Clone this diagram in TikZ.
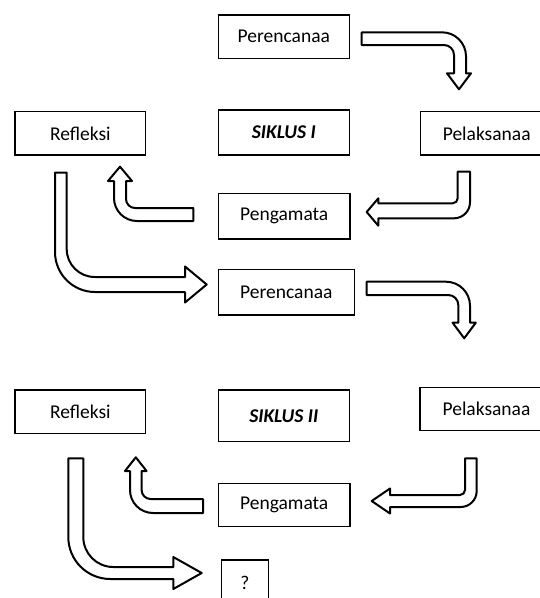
\documentclass[tikz,border=0pt]{standalone}
\usepackage{fontspec}
\setmainfont{Carlito}
\begin{document}
\begin{tikzpicture}[x=1pt,y=1pt,
  box/.style={draw, line width=1.3pt, inner sep=0pt, font=\fontsize{19.5}{23}\selectfont},
  titlebox/.style={box, font=\fontsize{19.5}{23}\selectfont\bfseries\itshape},
  barrow/.style={draw, line width=2pt, fill=white, line join=round}]
\useasboundingbox (0,0) rectangle (540,-598);
% boxes
\node[box, minimum width=131pt, minimum height=43.3pt] (p1) at (283.8,-36.7) {Perencanaa};
\node[titlebox, minimum width=131pt, minimum height=45pt] (s1) at (283.8,-132.5) {SIKLUS I};
\node[box, minimum width=132pt, minimum height=43.3pt] (l1) at (486.7,-133.3) {Pelaksanaa};
\node[box, minimum width=130.7pt, minimum height=43.3pt] (r1) at (80.3,-133.3) {Refleksi};
\node[box, minimum width=131.7pt, minimum height=45.7pt] (g1) at (284.2,-216.2) {Pengamata};
\node[box, minimum width=136pt, minimum height=45.7pt] (p2) at (286.3,-292.2) {Perencanaa};
\node[box, minimum width=130.7pt, minimum height=43.3pt] (r2) at (80.3,-411.7) {Refleksi};
\node[titlebox, minimum width=131pt, minimum height=51.7pt] (s2) at (283.8,-415.8) {SIKLUS II};
\node[box, minimum width=133pt, minimum height=43.4pt] (l2) at (486.5,-409) {Pelaksanaa};
\node[box, minimum width=131.7pt, minimum height=43.4pt] (g2) at (284.2,-505) {Pengamata};
\node[box, minimum width=46.6pt, minimum height=46pt] (q) at (245,-583) {?};
% block arrows, cycle I
\draw[barrow] (361.7,-32.3) -- (442,-32.3) arc[start angle=90,end angle=0,radius=24]
  -- (466,-73.3) -- (471,-73.3) -- (459,-89.3) -- (447,-73.3) -- (454,-73.3)
  -- (454,-55) arc[start angle=0,end angle=90,radius=10] -- (361.7,-45) -- cycle;
\draw[barrow] (457.7,-171.7) -- (470,-171.7) -- (470,-202.3) arc[start angle=0,end angle=-90,radius=16]
  -- (378.3,-218.3) -- (378.3,-225.7) -- (366.7,-212) -- (378.3,-198.3) -- (378.3,-203.3)
  -- (452.7,-203.3) arc[start angle=-90,end angle=0,radius=5] -- cycle;
\draw[barrow] (193.3,-208) -- (193.3,-221) -- (137,-221) arc[start angle=-90,end angle=-180,radius=23]
  -- (114,-181) -- (108,-181) -- (120,-166.7) -- (132,-181) -- (126,-181)
  -- (126,-199) arc[start angle=180,end angle=270,radius=9] -- cycle;
\draw[barrow] (55,-172.5) -- (66.7,-172.5) -- (66.7,-249) arc[start angle=180,end angle=270,radius=28]
  -- (185,-277) -- (185,-266.5) -- (206.7,-284.5) -- (185,-302.5) -- (185,-292)
  -- (95,-292) arc[start angle=270,end angle=180,radius=40] -- cycle;
% block arrows, cycle II
\draw[barrow] (366.7,-281.7) -- (446,-281.7) arc[start angle=90,end angle=0,radius=24]
  -- (470,-322.7) -- (475.8,-322.7) -- (464.2,-338.3) -- (452.6,-322.7) -- (458.3,-322.7)
  -- (458.3,-305) arc[start angle=0,end angle=90,radius=10] -- (366.7,-295) -- cycle;
\draw[barrow] (465,-458.3) -- (476.7,-458.3) -- (476.7,-491) arc[start angle=0,end angle=-90,radius=16]
  -- (390,-507) -- (390,-513.5) -- (371.7,-501) -- (390,-488.5) -- (390,-495)
  -- (460,-495) arc[start angle=-90,end angle=0,radius=5] -- cycle;
\draw[barrow] (203,-499) -- (203,-513) -- (153,-513) arc[start angle=-90,end angle=-180,radius=23]
  -- (130,-471) -- (125,-471) -- (135.8,-457.3) -- (146.6,-471) -- (141.6,-471)
  -- (141.6,-490) arc[start angle=180,end angle=270,radius=9] -- cycle;
\draw[barrow] (68.3,-458.3) -- (83.3,-458.3) -- (83.3,-537) arc[start angle=180,end angle=270,radius=30]
  -- (173.3,-567) -- (173.3,-557) -- (201.7,-573) -- (173.3,-589) -- (173.3,-579)
  -- (110.3,-579) arc[start angle=270,end angle=180,radius=42] -- cycle;
\end{tikzpicture}
\end{document}
